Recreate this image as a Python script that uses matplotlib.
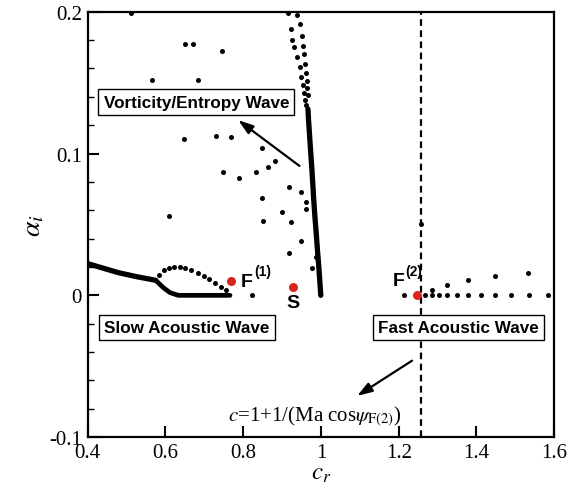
import matplotlib
matplotlib.use("Agg")
import matplotlib.pyplot as plt
from matplotlib.ticker import MultipleLocator

plt.rcParams['font.family'] = ['Liberation Serif', 'DejaVu Serif']
plt.rcParams['mathtext.fontset'] = 'stix'

# --- data ---
# scattered eigenvalues (black dots)
scat_cr = [0.5126, 0.6514, 0.672, 0.7458, 0.5658, 0.6841, 0.6481, 0.7303, 0.7697,
           0.8478, 0.882, 0.8648, 0.8332, 0.7491, 0.7887, 0.9188, 0.9496, 0.8478,
           0.9617, 0.9609, 0.8992, 0.8519, 0.9239, 0.9496, 0.9172, 0.9764, 0.9866,
           0.6103, 0.8229, 1.258]
scat_ai = [0.199, 0.177, 0.177, 0.172, 0.152, 0.152, 0.110, 0.1124, 0.1113,
           0.1037, 0.0944, 0.0905, 0.0873, 0.0873, 0.0826, 0.0767, 0.0732, 0.0687,
           0.0661, 0.0609, 0.0591, 0.0524, 0.0515, 0.0386, 0.0299, 0.0191, 0.027,
           0.056, 0.0, 0.0503]

# vorticity/entropy branch near c_r = 1, upper (two interleaved rows)
vort_top_cr = [0.9162, 0.9378, 0.9231, 0.9463, 0.9265, 0.9506, 0.9308, 0.9532, 0.9393,
               0.9566, 0.9463, 0.9591, 0.9488, 0.9617, 0.9548, 0.9635, 0.9566, 0.9650,
               0.9599, 0.9668, 0.9617]
vort_top_ai = [0.199, 0.198, 0.188, 0.191, 0.180, 0.183, 0.175, 0.176, 0.168,
               0.170, 0.161, 0.163, 0.154, 0.157, 0.148, 0.151, 0.143, 0.146,
               0.138, 0.141, 0.134]
# vorticity/entropy branch, dense lower part
vort_cr = [0.9668, 0.9681, 0.9699, 0.9715, 0.9733, 0.9751, 0.9769, 0.9784, 0.98, 0.9815,
           0.9833, 0.9851, 0.9872, 0.9892, 0.991, 0.9931, 0.9951, 0.9969, 0.9987, 0.9997]
vort_ai = [0.1313, 0.1242, 0.1171, 0.1101, 0.103, 0.096, 0.0889, 0.0819, 0.0748, 0.0677,
           0.0607, 0.0536, 0.0466, 0.0395, 0.0325, 0.0254, 0.0183, 0.0113, 0.0042, 0.0]

# slow acoustic branch
slow_cr = [0.4, 0.4321, 0.4792, 0.5272, 0.5753]
slow_ai = [0.0224, 0.0198, 0.016, 0.0131, 0.0106]
slow_low_cr = [0.5753, 0.5949, 0.6121, 0.6334, 0.7663]
slow_low_ai = [0.0106, 0.0054, 0.0019, 0.0, 0.0]
loop_cr = [0.5838, 0.5967, 0.6095, 0.6231, 0.6378, 0.6506, 0.6661, 0.6833, 0.7003,
           0.7123, 0.7278, 0.7432, 0.7553]
loop_ai = [0.0143, 0.0176, 0.0191, 0.0200, 0.0203, 0.0195, 0.0181, 0.016, 0.0136,
           0.0113, 0.0085, 0.0061, 0.0035]

# fast acoustic branch
fast_cr = [1.2136, 1.2676, 1.2849, 1.3036, 1.325, 1.3499, 1.3789, 1.4123, 1.4483,
           1.4895, 1.5342, 1.5838, 1.2849, 1.325, 1.3789, 1.4483, 1.5316]
fast_ai = [0.0, 0.0, 0.0, 0.0, 0.0, 0.0, 0.0, 0.0, 0.0,
           0.0, 0.0, 0.0, 0.0037, 0.0071, 0.0106, 0.0134, 0.016]

# special points F(1), S, F(2)
red_cr = [0.7689, 0.9275, 1.2478]
red_ai = [0.0101, 0.0059, 0.0]

c_line = 1.258

fig = plt.figure(figsize=(5.72, 4.89), dpi=100)
ax = fig.add_axes([0.153, 0.104, 0.816, 0.870])

dot = dict(ls='none', marker='o', color='k', ms=3.6, mec='none')
ax.plot(scat_cr, scat_ai, **dot)
ax.plot(vort_top_cr, vort_top_ai, **dot)
ax.plot(vort_cr, vort_ai, color='k', lw=3.8, solid_capstyle='round')
ax.plot(slow_cr, slow_ai, color='k', lw=3.8, solid_capstyle='round')
ax.plot(slow_low_cr, slow_low_ai, color='k', lw=3.4, solid_capstyle='round')
ax.plot(loop_cr, loop_ai, **dot)
ax.plot(fast_cr, fast_ai, **dot)
ax.axvline(c_line, color='k', lw=1.6, ls=(0, (3, 2)))
ax.plot(red_cr, red_ai, ls='none', marker='o', color='#d8261f', ms=6.5, mec='none', zorder=5)

box = dict(boxstyle='square,pad=0.3', fc='white', ec='k', lw=1.0)
sans = ['Liberation Sans', 'DejaVu Sans']
ax.text(0.6797, 0.1363, 'Vorticity/Entropy Wave', family=sans, weight='bold',
        fontsize=12.3, ha='center', va='center', bbox=box)
ax.text(0.6558, -0.0226, 'Slow Acoustic Wave', family=sans, weight='bold',
        fontsize=12.3, ha='center', va='center', bbox=box)
ax.text(1.3532, -0.0226, 'Fast Acoustic Wave', family=sans, weight='bold',
        fontsize=12.3, ha='center', va='center', bbox=box)

ax.text(0.7933, 0.0064, 'F', family=sans, weight='bold', fontsize=14, ha='left', va='baseline')
ax.text(0.828, 0.0141, '(1)', family=sans, weight='bold', fontsize=10, ha='left', va='baseline')
ax.text(0.9283, 0.0007, 'S', family=sans, weight='bold', fontsize=14, ha='center', va='top')
ax.text(1.1846, 0.0073, 'F', family=sans, weight='bold', fontsize=14, ha='left', va='baseline')
ax.text(1.2162, 0.0141, '(2)', family=sans, weight='bold', fontsize=10, ha='left', va='baseline')

arrow = dict(arrowstyle='-|>,head_length=0.9,head_width=0.3', color='k', lw=1.6)
ax.annotate('', xy=(0.7817, 0.1247), xytext=(0.9506, 0.0901), arrowprops=arrow)
ax.annotate('', xy=(1.0872, -0.0720), xytext=(1.2404, -0.045), arrowprops=arrow)
ax.text(0.7599, -0.0847, r'$c$=1+1/(Ma cos$\psi_{\mathrm{F(2)}}$)', fontsize=15,
        ha='left', va='center')

ax.set_xlim(0.4, 1.6)
ax.set_ylim(-0.1, 0.2)
ax.yaxis.set_minor_locator(MultipleLocator(0.02))
ax.set_xticks([0.4, 0.6, 0.8, 1.0, 1.2, 1.4, 1.6])
ax.set_xticklabels(['0.4', '0.6', '0.8', '1', '1.2', '1.4', '1.6'])
ax.set_yticks([-0.1, 0.0, 0.1, 0.2])
ax.set_yticklabels(['-0.1', '0', '0.1', '0.2'])
ax.tick_params(which='both', direction='in', top=False, right=False, labelsize=15)
ax.tick_params(which='major', length=8, width=1.5, pad=4)
ax.tick_params(which='minor', length=4.5, width=1.0)
for s in ax.spines.values():
    s.set_linewidth(1.6)

ax.set_xlabel(r'$c_r$', fontsize=18, labelpad=0)
ax.set_ylabel(r'$\alpha_i$', fontsize=20, labelpad=2)

fig.savefig('out.png', dpi=100)
